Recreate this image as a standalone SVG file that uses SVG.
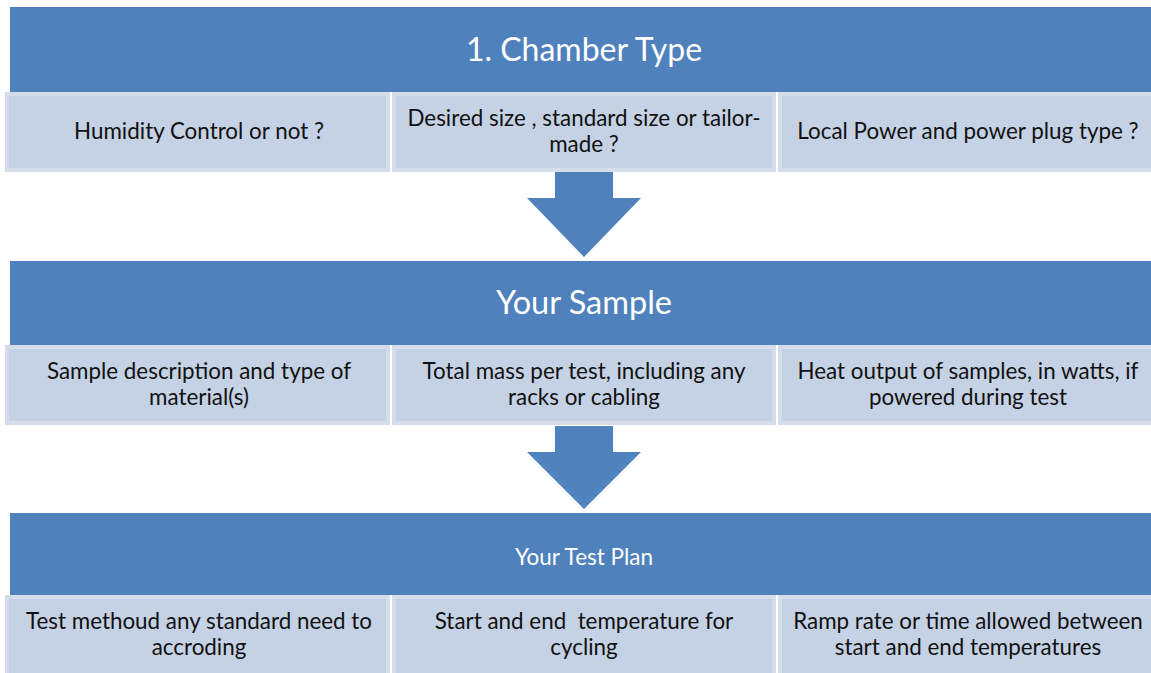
<svg xmlns="http://www.w3.org/2000/svg" width="1151" height="673" viewBox="0 0 1151 673">
<style>
.hdr{fill:#4f81bd}
.sub{fill:#c5d1e4;stroke:#d5ddeb;stroke-width:4}
.arrow{fill:#4f81bd}
.t{font-family:Lato,"Open Sans",sans-serif;font-size:22.4px;fill:#111;text-anchor:middle;white-space:pre}
.h{font-family:Lato,"Open Sans",sans-serif;fill:#fff;text-anchor:middle}
</style>
<rect width="1151" height="673" fill="#fff"/>
<g id="chamber-type">
<rect class="hdr" x="10" y="7" width="1141" height="85"/>
<text class="h" x="584" y="61" font-size="32">1. Chamber Type</text>
</g>
<g id="humidity">
<rect class="sub" x="7" y="94" width="381" height="76"/>
<text class="t" x="199" y="139">Humidity Control or not ?</text>
</g>
<g id="size">
<rect class="sub" x="394" y="94" width="380" height="76"/>
<text class="t" x="584" y="126">Desired size , standard size or tailor-</text>
<text class="t" x="584" y="152">made ?</text>
</g>
<g id="power">
<rect class="sub" x="780" y="94" width="373" height="76"/>
<text class="t" x="968" y="139">Local Power and power plug type ?</text>
</g>
<g id="your-sample">
<rect class="hdr" x="10" y="261" width="1141" height="84"/>
<text class="h" x="584" y="314" font-size="32.5">Your Sample</text>
</g>
<g id="sample-desc">
<rect class="sub" x="7" y="347" width="381" height="76"/>
<text class="t" x="199" y="379">Sample description and type of</text>
<text class="t" x="199" y="405">material(s)</text>
</g>
<g id="mass">
<rect class="sub" x="394" y="347" width="380" height="76"/>
<text class="t" x="584" y="379">Total mass per test, including any</text>
<text class="t" x="584" y="405">racks or cabling</text>
</g>
<g id="heat">
<rect class="sub" x="780" y="347" width="373" height="76"/>
<text class="t" x="968" y="379">Heat output of samples, in watts, if</text>
<text class="t" x="968" y="405">powered during test</text>
</g>
<g id="test-plan">
<rect class="hdr" x="10" y="513" width="1141" height="82"/>
<text class="h" x="584" y="565" font-size="22.5">Your Test Plan</text>
</g>
<g id="method">
<rect class="sub" x="7" y="597" width="381" height="78"/>
<text class="t" x="199" y="629">Test methoud any standard need to</text>
<text class="t" x="199" y="655">accroding</text>
</g>
<g id="temperature">
<rect class="sub" x="394" y="597" width="380" height="78"/>
<text class="t" x="584" y="629">Start and end  temperature for</text>
<text class="t" x="584" y="655">cycling</text>
</g>
<g id="ramp">
<rect class="sub" x="780" y="597" width="373" height="78"/>
<text class="t" x="968" y="629">Ramp rate or time allowed between</text>
<text class="t" x="968" y="655">start and end temperatures</text>
</g>
<g id="connectors">
<polygon class="arrow" points="555,172 613,172 613,198 641,198 584,257 527,198 555,198"/>
<polygon class="arrow" points="555,426 613,426 613,452 641,452 584,509 527,452 555,452"/>
</g>
</svg>
